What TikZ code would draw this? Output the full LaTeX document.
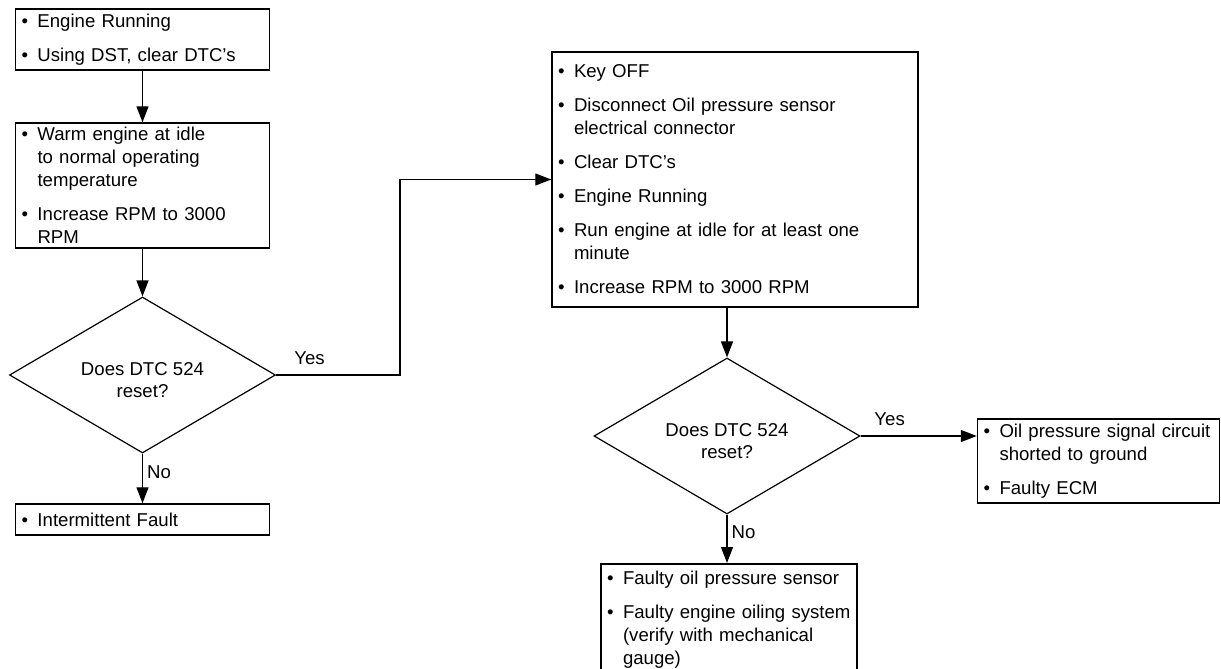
\documentclass[tikz,border=0pt]{standalone}
\usepackage{fontspec}
\setmainfont{Liberation Sans}
\usetikzlibrary{arrows.meta,shapes.geometric}
\newcommand{\bul}{\noindent\hangindent=8pt\hangafter=1\makebox[8pt][l]{•}}
\newcommand{\nxt}{\par\vspace{5.5pt}\bul}

\begin{document}
\begin{tikzpicture}[
  x=0.5pt, y=-0.5pt,
  box/.style={draw, line width=0.75pt, align=left, inner xsep=3pt, inner ysep=0pt,
              font=\fontsize{9.3}{11.5}\selectfont},
  dec/.style={draw, diamond, line width=0.6pt, inner sep=0pt,
              minimum width=133pt, minimum height=78pt},
  qtxt/.style={align=center, inner sep=0pt, yshift=-2.5pt,
               font=\fontsize{9.3}{11}\selectfont},
  flow/.style={-{Triangle[length=8pt, width=6pt]}, line width=0.65pt},
  lab/.style={font=\fontsize{9.3}{11.5}\selectfont, inner sep=2pt}
]
  \useasboundingbox (0,0) rectangle (1221,669);
  \clip (0,0) rectangle (1221,669);

  % Left column
  \node[box, text width=121pt, minimum height=30.5pt] (start) at (142.5,39.5)
    {\bul Engine Running\nxt Using DST, clear DTC’s\par};
  \node[box, text width=121pt, minimum height=62.5pt] (warm) at (142.5,185.5)
    {\bul Warm engine at idle\newline to normal operating\newline temperature%
     \nxt Increase RPM to 3000\newline RPM\par};
  \node[dec, label={[qtxt]center:Does DTC 524\\reset?}] (q1) at (142.5,375) {};
  \node[box, text width=121pt, minimum height=15.5pt] (intm) at (142.5,519.5)
    {\bul Intermittent Fault\par};

  % Right column
  \node[box, text width=177pt, minimum height=127.5pt] (keyoff) at (735,179.5)
    {\bul Key OFF%
     \nxt Disconnect Oil pressure sensor\newline electrical connector%
     \nxt Clear DTC’s%
     \nxt Engine Running%
     \nxt Run engine at idle for at least one\newline minute%
     \nxt Increase RPM to 3000 RPM\par};
  \node[dec, label={[qtxt]center:Does DTC 524\\reset?}] (q2) at (727,436) {};
  \node[box, text width=115pt, minimum height=42pt] (short) at (1098.5,461)
    {\bul Oil pressure signal circuit\newline shorted to ground\nxt Faulty ECM\par};
  \node[box, text width=122pt, anchor=north, inner ysep=3.5pt] (sensor) at (729,563)
    {\bul Faulty oil pressure sensor%
     \nxt Faulty engine oiling system\newline (verify with mechanical\newline gauge)\par};

  % Connectors
  \coordinate (bend) at (400,375);
  \draw[flow] (start) -- (warm);
  \draw[flow] (warm) -- (q1);
  \draw[flow] (q1) -- node[lab, right, pos=0.37] {No} (intm);
  \draw[flow] (q1.east) -- node[lab, above=3pt, pos=0.27] {Yes} (bend) |- (keyoff.west);
  \draw[flow] (keyoff.south -| q2) -- (q2);
  \draw[flow] (q2.east) -- node[lab, above=3pt, pos=0.25] {Yes} (q2.east -| short.west);
  \draw[flow] (q2.south) -- node[lab, right, pos=0.36] {No} (q2.south |- sensor.north);
\end{tikzpicture}
\end{document}
